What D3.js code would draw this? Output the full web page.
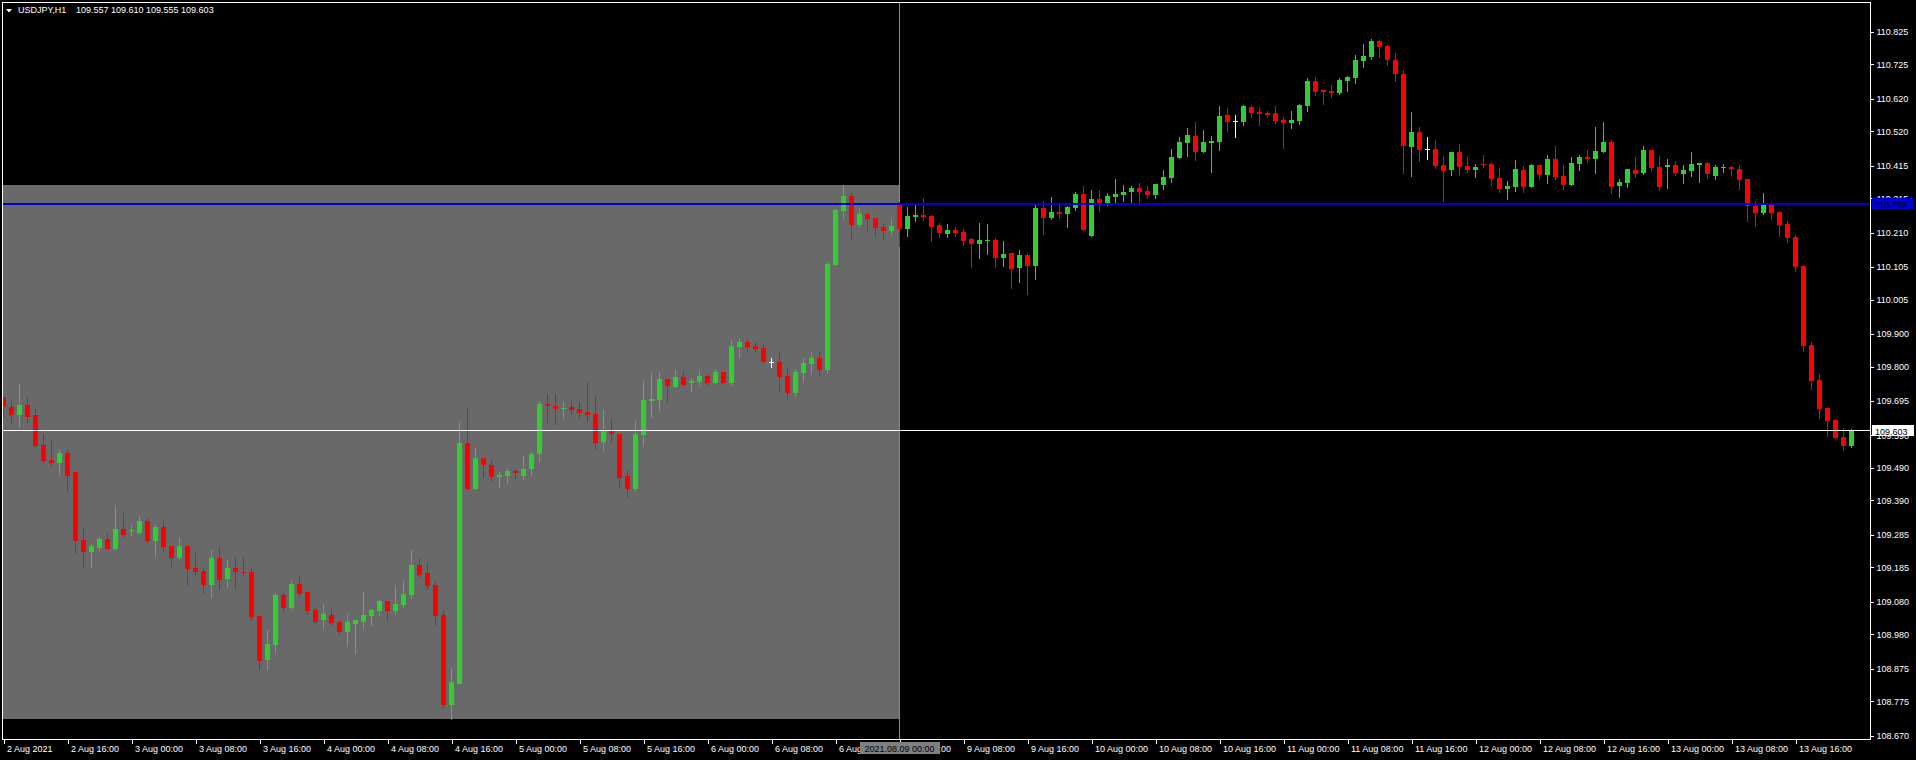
<!DOCTYPE html>
<html><head><meta charset="utf-8">
<script src="https://cdn.jsdelivr.net/npm/d3@7"></script>
<style>
body{margin:0;background:#000;overflow:hidden}
svg{display:block}
text{font-family:"Liberation Sans",Arial,sans-serif;font-size:9px;fill:#fff}
</style>
</head><body>
<svg id="c" width="1916" height="760"></svg>
<script>
const symbol = "USDJPY,H1";

const opens = [
109.706,109.675,109.653,109.682,109.652,109.560,109.514,109.506,109.535,109.477,
109.269,109.233,109.245,109.272,109.242,109.303,109.298,109.291,109.327,109.266,
109.309,109.251,109.215,109.251,109.183,109.174,109.132,109.214,109.150,109.183,
109.171,109.171,109.036,108.902,108.948,109.100,109.062,109.134,109.110,109.055,
109.025,109.039,109.018,108.988,109.013,109.019,109.037,109.052,109.082,109.053,
109.070,109.101,109.193,109.168,109.131,109.039,108.765,108.829,109.566,109.426,
109.520,109.499,109.463,109.466,109.480,109.466,109.485,109.531,109.686,109.680,
109.670,109.676,109.670,109.661,109.655,109.570,109.606,109.594,109.465,109.426,
109.591,109.696,109.699,109.762,109.736,109.768,109.749,109.754,109.771,109.751,
109.784,109.751,109.861,109.875,109.863,109.857,109.813,109.814,109.771,109.719,
109.780,109.808,109.826,109.790,110.111,110.277,110.323,110.234,110.268,110.256,
110.228,110.216,110.302,110.222,110.259,110.265,110.262,110.234,110.206,110.219,
110.213,110.191,110.176,110.185,110.188,110.133,110.148,110.102,110.142,110.109,
110.286,110.256,110.274,110.268,110.286,110.329,110.200,110.314,110.298,110.320,
110.326,110.335,110.347,110.338,110.324,110.356,110.378,110.439,110.485,110.507,
110.457,110.485,110.488,110.571,110.551,110.549,110.595,110.580,110.577,110.577,
110.555,110.546,110.552,110.599,110.675,110.647,110.644,110.638,110.675,110.684,
110.736,110.748,110.797,110.782,110.739,110.696,110.473,110.518,110.466,110.466,
110.417,110.402,110.457,110.414,110.402,110.420,110.420,110.378,110.344,110.350,
110.403,110.351,110.418,110.387,110.436,110.384,110.357,110.421,110.442,110.436,
110.458,110.488,110.354,110.363,110.403,110.393,110.464,110.412,110.412,110.418,
110.390,110.400,110.418,110.424,110.384,110.409,110.412,110.406,110.375,110.292,
110.271,110.301,110.274,110.237,110.197,110.108,109.866,109.759,109.673,109.637,
109.585,109.557];

const highs = [
109.708,109.698,109.747,109.708,109.670,109.594,109.578,109.545,109.545,109.477,
109.309,109.258,109.278,109.290,109.376,109.351,109.315,109.342,109.336,109.318,
109.333,109.251,109.275,109.254,109.229,109.183,109.238,109.247,109.208,109.217,
109.217,109.186,109.036,108.993,109.107,109.107,109.143,109.159,109.113,109.061,
109.073,109.064,109.021,109.039,109.024,109.110,109.058,109.085,109.082,109.131,
109.143,109.239,109.214,109.199,109.143,109.055,108.877,109.627,109.676,109.551,
109.520,109.514,109.477,109.490,109.487,109.526,109.539,109.692,109.716,109.716,
109.692,109.698,109.692,109.753,109.710,109.667,109.640,109.594,109.484,109.634,
109.756,109.781,109.784,109.762,109.790,109.787,109.765,109.787,109.778,109.790,
109.784,109.881,109.888,109.885,109.875,109.869,109.826,109.845,109.796,109.790,
109.826,109.845,109.848,110.120,110.283,110.357,110.332,110.286,110.271,110.256,
110.240,110.253,110.305,110.289,110.295,110.317,110.265,110.240,110.237,110.228,
110.222,110.194,110.240,110.237,110.194,110.185,110.148,110.158,110.148,110.298,
110.308,110.320,110.298,110.292,110.335,110.354,110.341,110.341,110.332,110.375,
110.357,110.354,110.363,110.353,110.359,110.402,110.467,110.504,110.531,110.549,
110.525,110.507,110.599,110.592,110.571,110.602,110.602,110.595,110.583,110.599,
110.565,110.583,110.605,110.684,110.687,110.647,110.663,110.684,110.690,110.754,
110.788,110.804,110.800,110.785,110.760,110.708,110.580,110.534,110.504,110.494,
110.445,110.457,110.482,110.442,110.420,110.448,110.427,110.408,110.369,110.433,
110.415,110.421,110.418,110.449,110.476,110.418,110.442,110.449,110.464,110.534,
110.549,110.494,110.375,110.406,110.442,110.476,110.464,110.446,110.436,110.430,
110.418,110.458,110.424,110.427,110.418,110.421,110.415,110.418,110.375,110.308,
110.332,110.304,110.274,110.246,110.203,110.108,109.876,109.778,109.673,109.637,
109.612,109.610];

const lows = [
109.647,109.628,109.619,109.631,109.555,109.509,109.497,109.472,109.420,109.230,
109.187,109.187,109.238,109.242,109.242,109.279,109.285,109.291,109.264,109.221,
109.233,109.190,109.212,109.132,109.160,109.108,109.095,109.120,109.126,109.123,
109.163,109.025,108.875,108.875,108.927,109.052,109.062,109.098,109.043,109.016,
109.000,109.010,108.982,108.945,108.924,109.000,109.010,109.040,109.025,109.044,
109.065,109.093,109.157,109.120,109.010,108.759,108.720,108.829,109.426,109.426,
109.463,109.451,109.432,109.445,109.460,109.457,109.469,109.512,109.631,109.625,
109.643,109.656,109.641,109.632,109.549,109.546,109.570,109.429,109.402,109.420,
109.558,109.647,109.668,109.693,109.736,109.742,109.724,109.748,109.742,109.751,
109.748,109.742,109.828,109.848,109.848,109.811,109.800,109.725,109.698,109.710,
109.753,109.777,109.774,109.780,110.111,110.256,110.191,110.231,110.219,110.200,
110.191,110.207,110.170,110.200,110.246,110.249,110.185,110.197,110.197,110.200,
110.173,110.106,110.133,110.145,110.106,110.109,110.041,110.060,110.023,110.069,
110.207,110.253,110.256,110.228,110.280,110.219,110.200,110.277,110.295,110.302,
110.308,110.305,110.305,110.315,110.315,110.345,110.366,110.439,110.445,110.433,
110.457,110.396,110.464,110.522,110.504,110.540,110.565,110.540,110.565,110.546,
110.470,110.531,110.543,110.583,110.632,110.605,110.626,110.635,110.644,110.669,
110.718,110.742,110.748,110.724,110.675,110.393,110.384,110.430,110.436,110.408,
110.307,110.387,110.387,110.396,110.381,110.411,110.356,110.335,110.314,110.338,
110.335,110.351,110.375,110.363,110.375,110.344,110.357,110.403,110.427,110.393,
110.458,110.332,110.320,110.351,110.381,110.390,110.400,110.341,110.348,110.387,
110.363,110.384,110.366,110.378,110.375,110.397,110.387,110.344,110.246,110.231,
110.268,110.252,110.200,110.182,110.093,109.848,109.732,109.643,109.588,109.582,
109.545,109.555];

const closes = [
109.675,109.653,109.682,109.647,109.558,109.512,109.506,109.535,109.466,109.266,
109.233,109.251,109.272,109.242,109.303,109.284,109.300,109.327,109.266,109.309,
109.248,109.215,109.251,109.181,109.172,109.132,109.214,109.147,109.183,109.172,
109.169,109.034,108.899,108.950,109.100,109.062,109.134,109.105,109.052,109.019,
109.042,109.016,108.988,109.018,109.024,109.039,109.055,109.082,109.053,109.073,
109.104,109.193,109.163,109.129,109.037,108.765,108.834,109.566,109.426,109.520,
109.500,109.463,109.468,109.480,109.475,109.487,109.533,109.686,109.678,109.670,
109.673,109.668,109.659,109.653,109.567,109.603,109.592,109.460,109.426,109.594,
109.698,109.701,109.762,109.739,109.768,109.745,109.756,109.771,109.751,109.784,
109.751,109.863,109.875,109.861,109.854,109.814,109.813,109.768,109.719,109.783,
109.811,109.826,109.790,110.114,110.280,110.323,110.234,110.268,110.253,110.225,
110.216,110.231,110.222,110.262,110.265,110.259,110.228,110.209,110.219,110.209,
110.185,110.176,110.188,110.188,110.133,110.145,110.099,110.142,110.109,110.286,
110.256,110.274,110.268,110.289,110.329,110.219,110.314,110.298,110.323,110.329,
110.335,110.347,110.335,110.324,110.359,110.381,110.442,110.488,110.510,110.457,
110.488,110.491,110.568,110.549,110.551,110.599,110.577,110.574,110.571,110.552,
110.546,110.555,110.602,110.675,110.641,110.641,110.638,110.678,110.687,110.739,
110.751,110.797,110.779,110.739,110.696,110.476,110.518,110.463,110.466,110.414,
110.399,110.457,110.411,110.402,110.411,110.417,110.375,110.344,110.353,110.405,
110.351,110.418,110.387,110.436,110.381,110.357,110.424,110.442,110.436,110.461,
110.488,110.351,110.366,110.406,110.390,110.464,110.409,110.351,110.418,110.393,
110.403,110.421,110.424,110.390,110.412,110.412,110.406,110.372,110.292,110.271,
110.301,110.271,110.234,110.194,110.105,109.863,109.756,109.670,109.634,109.582,
109.557,109.603];

const yTickValues = [110.825,110.725,110.620,110.520,110.415,110.315,110.210,110.105,110.005,
  109.900,109.800,109.695,109.590,109.490,109.390,109.285,109.185,109.080,108.980,108.875,108.775,108.670];

const xTickLabels = ["2 Aug 2021","2 Aug 16:00","3 Aug 00:00","3 Aug 08:00","3 Aug 16:00",
  "4 Aug 00:00","4 Aug 08:00","4 Aug 16:00","5 Aug 00:00","5 Aug 08:00","5 Aug 16:00",
  "6 Aug 00:00","6 Aug 08:00","6 Aug 16:00","9 Aug 00:00","9 Aug 08:00","9 Aug 16:00",
  "10 Aug 00:00","10 Aug 08:00","10 Aug 16:00","11 Aug 00:00","11 Aug 08:00","11 Aug 16:00",
  "12 Aug 00:00","12 Aug 08:00","12 Aug 16:00","13 Aug 00:00","13 Aug 08:00","13 Aug 16:00"];
const barsPerXTick = 8;

const levelLine = 110.299;          // blue horizontal line
const bidPrice = 109.603;           // current bid line
const separatorBar = 112;           // vertical line bar index
const separatorLabel = "2021.08.09 00:00";

// colours
const BULL = "#32cd32", BEAR = "#ff0000", DOJI = "#ffffff";
const RECT_FILL = "#696969", LEVEL_COL = "#0000d2", VLINE_COL = "#8a8a8a";

const svg = d3.select("#c");
const W = 1916, H = 760;
const L = 2, R = 1870, T = 2, B = 739;
const n = opens.length;

const x = d3.scaleLinear().domain([0, n - 1]).range([3.5, 3.5 + 8 * (n - 1)]);
const y = d3.scaleLinear().domain([108.670, 110.825]).range([735.7, 31.7]);

svg.append("rect").attr("width", W).attr("height", H).attr("fill", "#000");

svg.append("defs").append("clipPath").attr("id", "plot")
  .append("rect").attr("x", L + 1).attr("y", T + 1).attr("width", R - L - 1).attr("height", B - T - 1);

const plot = svg.append("g").attr("clip-path", "url(#plot)").attr("shape-rendering", "crispEdges");

// background rectangle object covering the range of bars before the separator
const rangeIdx = d3.range(0, separatorBar);
const rectTop = d3.max(rangeIdx, i => highs[i]);
const rectBot = d3.min(rangeIdx, i => lows[i]);
plot.append("rect")
  .attr("x", L).attr("width", x(separatorBar) + 0.5 - L)
  .attr("y", Math.round(y(rectTop))).attr("height", Math.round(y(rectBot)) - Math.round(y(rectTop)))
  .attr("fill", RECT_FILL);

// vertical line
plot.append("rect").attr("x", x(separatorBar) - 0.5).attr("width", 1)
  .attr("y", T).attr("height", B - T).attr("fill", VLINE_COL);

// candles
const idx = d3.range(n);
const col = i => closes[i] > opens[i] ? BULL : (closes[i] < opens[i] ? BEAR : DOJI);
const cg = plot.append("g");
cg.selectAll("rect.wick").data(idx).join("rect").attr("class", "wick")
  .attr("x", i => x(i) - 0.5).attr("width", 1)
  .attr("y", i => Math.round(y(highs[i])))
  .attr("height", i => Math.max(1, Math.round(y(lows[i])) - Math.round(y(highs[i])) + 1))
  .attr("fill", col);
cg.selectAll("rect.body").data(idx).join("rect").attr("class", "body")
  .attr("x", i => x(i) - 2.5).attr("width", 5)
  .attr("y", i => Math.round(y(Math.max(opens[i], closes[i]))))
  .attr("height", i => Math.max(1, Math.round(y(Math.min(opens[i], closes[i]))) - Math.round(y(Math.max(opens[i], closes[i])))))
  .attr("fill", col);

// horizontal lines
plot.append("rect").attr("x", L).attr("width", R - L).attr("y", Math.round(y(levelLine)) - 1).attr("height", 2).attr("fill", LEVEL_COL);
plot.append("rect").attr("x", L).attr("width", R - L).attr("y", Math.floor(y(bidPrice))).attr("height", 1).attr("fill", "#fff");

// frame
svg.append("rect").attr("x", L + 0.5).attr("y", T + 0.5).attr("width", R - L).attr("height", B - T)
  .attr("fill", "none").attr("stroke", "#fff").attr("stroke-width", 1).attr("shape-rendering", "crispEdges");

// y axis
const yAxis = d3.axisRight(y).tickValues(yTickValues).tickFormat(d3.format(".3f")).tickSize(3).tickPadding(3);
const ya = svg.append("g").attr("transform", `translate(${R + 0.5},0)`).call(yAxis);
ya.select(".domain").remove();
ya.selectAll(".tick line").attr("stroke", "#fff").attr("shape-rendering", "crispEdges");
ya.selectAll(".tick text").attr("fill", "#fff").attr("font-family", '"Liberation Sans",Arial,sans-serif').attr("font-size", 9).attr("dy", "0.34em");

// x axis
const xTickIdx = xTickLabels.map((_, k) => k * barsPerXTick);
const xAxis = d3.axisBottom(x).tickValues(xTickIdx).tickFormat((d, k) => xTickLabels[k]).tickSize(4).tickPadding(0);
const xa = svg.append("g").attr("transform", `translate(0,${B + 0.5})`).call(xAxis);
xa.select(".domain").remove();
xa.selectAll(".tick line").attr("stroke", "#fff").attr("shape-rendering", "crispEdges");
xa.selectAll(".tick text").attr("fill", "#fff").attr("text-anchor", "start").attr("x", 3).attr("y", 12.5).attr("dy", 0)
  .attr("font-family", '"Liberation Sans",Arial,sans-serif').attr("font-size", 9);

// price labels on axis
function priceBox(v, bg, fg) {
  const yy = Math.round(y(v));
  svg.append("rect").attr("x", R + 2).attr("y", yy - 6).attr("width", 42).attr("height", 11).attr("fill", bg).attr("shape-rendering", "crispEdges");
  svg.append("text").attr("x", R + 5).attr("y", yy + 3.5).attr("fill", fg).style("fill", fg).text(d3.format(".3f")(v));
}
priceBox(levelLine, LEVEL_COL, "#000");
priceBox(bidPrice, "#fff", "#000");

// time label for vertical line
const vx = x(separatorBar);
svg.append("rect").attr("x", vx - 40).attr("y", B + 3).attr("width", 80).attr("height", 12).attr("fill", "#808080").attr("shape-rendering", "crispEdges");
svg.append("text").attr("x", vx).attr("y", B + 12.5).attr("text-anchor", "middle").style("fill", "#000").text(separatorLabel);

// header
svg.append("path").attr("d", "M6,9 L12,9 L9,12.5 Z").attr("fill", "#fff");
const last = n - 1;
svg.append("text").attr("x", 18).attr("y", 13).text(symbol);
svg.append("text").attr("x", 76).attr("y", 13)
  .text([opens[last], highs[last], lows[last], closes[last]].map(d3.format(".3f")).join(" "));
</script>
</body></html>
